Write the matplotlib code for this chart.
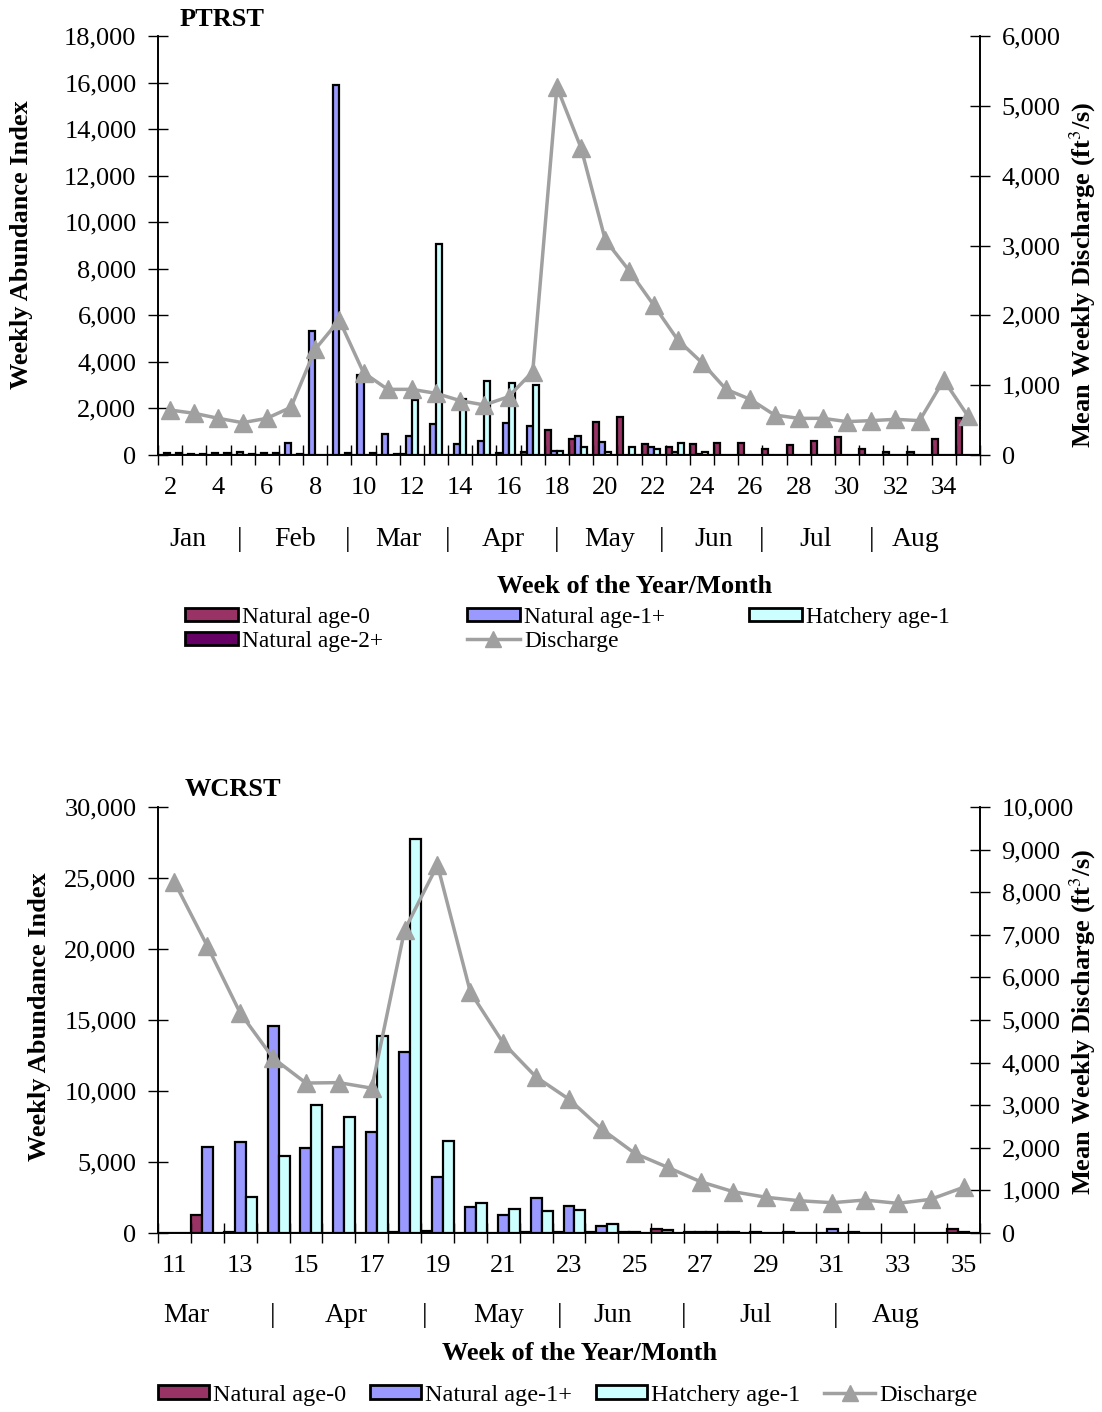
import matplotlib
matplotlib.use('Agg')
import matplotlib.pyplot as plt
from matplotlib.ticker import StrMethodFormatter, FixedLocator
from matplotlib.patches import Patch
from matplotlib.lines import Line2D
import numpy as np

plt.rcParams['font.family'] = ['Liberation Serif', 'DejaVu Serif']
plt.rcParams['mathtext.fontset'] = 'stix'

# ---- PTRST (weeks 2-35) ----
weeks_pt = list(range(2, 36))
pt_age0 = [0, 0, 0, 0, 0, 0, 0, 0, 0, 0, 30, 0, 0, 0, 100, 150, 1070, 670, 1430, 1620,
           470, 360, 470, 500, 500, 240, 430, 620, 760, 240, 140, 140, 670, 1580]
pt_age1 = [80, 60, 90, 110, 100, 500, 5340, 15900, 3450, 900, 820, 1330, 470, 620, 1390, 1250,
           190, 820, 570, 20, 360, 140, 40, 20, 20, 20, 20, 20, 20, 20, 20, 20, 0, 0]
pt_hatch = [0, 0, 0, 0, 0, 0, 0, 0, 0, 0, 2360, 9050, 2390, 3170, 3100, 3000,
            190, 360, 140, 360, 240, 500, 140, 20, 20, 20, 20, 20, 20, 20, 20, 20, 20, 20]
pt_age2 = [70, 60, 80, 60, 70, 60, 0, 100, 80, 60, 0, 0, 0, 0, 0, 0,
           0, 0, 0, 0, 0, 0, 20, 20, 20, 20, 20, 20, 20, 20, 20, 20, 20, 20]
pt_discharge = [644, 597, 525, 463, 525, 683, 1513, 1933, 1179, 940, 940, 883, 778, 716, 835, 1193,
                5270, 4396, 3079, 2635, 2148, 1647, 1322, 940, 797, 573, 525, 525, 478, 492, 511, 492,
                1074, 558]
pt_ticklabels = list(range(2, 35, 2))
pt_months = ['Jan', '|', 'Feb', '|', 'Mar', '|', 'Apr', '|', 'May', '|', 'Jun', '|', 'Jul', '|', 'Aug']
pt_month_px = [188, 240, 295, 348, 398, 448, 503, 557, 610, 662, 714, 762, 816, 872, 916]

# ---- WCRST (weeks 11-35) ----
weeks_wc = list(range(11, 36))
wc_age0 = [0, 1270, 100, 0, 0, 0, 0, 60, 120, 0, 30, 60, 60, 60, 100, 300, 80, 50, 40, 40,
           20, 40, 30, 30, 250]
wc_age1 = [0, 6050, 6430, 14600, 6010, 6050, 7140, 12750, 3970, 1810, 1290, 2440, 1920, 490,
           60, 210, 60, 40, 30, 30, 300, 30, 20, 20, 40]
wc_hatch = [0, 0, 2560, 5420, 9010, 8180, 13870, 27750, 6510, 2090, 1670, 1550, 1620, 630,
            30, 20, 50, 20, 20, 20, 20, 20, 20, 20, 20]
wc_discharge = [8239, 6736, 5164, 4107, 3520, 3530, 3400, 7112, 8638, 5656, 4459, 3661, 3140, 2436,
                1870, 1542, 1204, 969, 838, 758, 711, 774, 696, 791, 1073]
wc_ticklabels = list(range(11, 36, 2))
wc_months = ['Mar', '|', 'Apr', '|', 'May', '|', 'Jun', '|', 'Jul', '|', 'Aug']
wc_month_px = [186, 273, 346, 425, 499, 560, 613, 684, 756, 836, 896]

C_AGE0 = '#993366'
C_AGE1 = '#9999FF'
C_HATCH = '#CCFFFF'
C_AGE2 = '#660066'
C_DIS = '#A0A0A0'

W, H = 1102, 1412
fig = plt.figure(figsize=(W / 100, H / 100), dpi=100)


def px_axes(left, top, right, bottom):
    return fig.add_axes([left / W, 1 - bottom / H, (right - left) / W, (bottom - top) / H])


def style_axes(ax, ax2, weeks, ticklabels, ymax, ystep, y2max, y2step):
    x = np.array(weeks)
    ax.set_xlim(x[0] - 0.5, x[-1] + 0.5)
    ax.set_ylim(0, ymax)
    ax2.set_ylim(0, y2max)
    ax.set_yticks(np.arange(0, ymax + 1, ystep))
    ax2.set_yticks(np.arange(0, y2max + 1, y2step))
    ax.yaxis.set_major_formatter(StrMethodFormatter('{x:,.0f}'))
    ax2.yaxis.set_major_formatter(StrMethodFormatter('{x:,.0f}'))
    ax.xaxis.set_major_locator(FixedLocator(np.arange(x[0] - 0.5, x[-1] + 1)))
    ax.xaxis.set_minor_locator(FixedLocator(ticklabels))
    ax.xaxis.set_major_formatter(plt.NullFormatter())
    ax.set_xticklabels([str(t) for t in ticklabels], minor=True)
    ax.tick_params(axis='x', which='major', direction='inout', length=14, width=1)
    ax.tick_params(axis='x', which='minor', length=0, pad=16, labelsize=19)
    ax.tick_params(axis='y', direction='inout', length=15, width=1, pad=8, labelsize=19)
    ax2.tick_params(axis='y', direction='inout', length=15, width=1, pad=8, labelsize=19)
    for a in (ax, ax2):
        a.spines['top'].set_visible(False)
        for s in ('left', 'right', 'bottom'):
            a.spines[s].set_linewidth(1.2)


# ---------- top chart ----------
ax = px_axes(158, 36, 980, 455)
ax2 = ax.twinx()
x = np.array(weeks_pt)
bw = 0.25
for off, vals, col in [(-0.375, pt_age0, C_AGE0), (-0.125, pt_age1, C_AGE1),
                       (0.125, pt_hatch, C_HATCH), (0.375, pt_age2, C_AGE2)]:
    ax.bar(x + off, vals, width=bw, color=col, edgecolor='black', linewidth=1.6)
ax2.plot(x, pt_discharge, color=C_DIS, lw=2.5, marker='^', markersize=13)
style_axes(ax, ax2, weeks_pt, pt_ticklabels, 18000, 2000, 6000, 1000)
fig.text(180 / W, 1 - 19 / H, 'PTRST', fontsize=19, fontweight='bold', va='center', ha='left')
fig.text(22 / W, 1 - 245 / H, 'Weekly Abundance Index', fontsize=19, fontweight='bold',
         rotation=90, va='center', ha='center')
fig.text(1083 / W, 1 - 275 / H, 'Mean Weekly Discharge (ft$^3$/s)', fontsize=19, fontweight='bold',
         rotation=90, va='center', ha='center')
for lab, px in zip(pt_months, pt_month_px):
    fig.text(px / W, 1 - 540 / H, lab, fontsize=20, va='center', ha='center')
fig.text(635 / W, 1 - 586 / H, 'Week of the Year/Month', fontsize=19, fontweight='bold',
         va='center', ha='center')

h_age0 = Patch(facecolor=C_AGE0, edgecolor='black', linewidth=2, label='Natural age-0')
h_age1 = Patch(facecolor=C_AGE1, edgecolor='black', linewidth=2, label='Natural age-1+')
h_hatch = Patch(facecolor=C_HATCH, edgecolor='black', linewidth=2, label='Hatchery age-1')
h_age2 = Patch(facecolor=C_AGE2, edgecolor='black', linewidth=2, label='Natural age-2+')
h_dis = Line2D([], [], color=C_DIS, lw=2.5, marker='^', markersize=11, label='Discharge')

fig.legend(handles=[h_age0, h_age2, h_age1, h_dis, h_hatch], ncol=3, frameon=False,
           fontsize=16.8, loc='upper left', bbox_to_anchor=(185 / W, 1 - 607 / H),
           handlelength=2.25, handleheight=0.5, handletextpad=0.2, columnspacing=3.6,
           labelspacing=0.12, borderpad=0, borderaxespad=0)

# ---------- bottom chart ----------
bx = px_axes(158, 807, 980, 1233)
bx2 = bx.twinx()
x = np.array(weeks_wc)
bw = 1 / 3
for off, vals, col in [(-1 / 3, wc_age0, C_AGE0), (0, wc_age1, C_AGE1), (1 / 3, wc_hatch, C_HATCH)]:
    bx.bar(x + off, vals, width=bw, color=col, edgecolor='black', linewidth=1.6)
bx2.plot(x, wc_discharge, color=C_DIS, lw=2.5, marker='^', markersize=13)
style_axes(bx, bx2, weeks_wc, wc_ticklabels, 30000, 5000, 10000, 1000)
fig.text(185 / W, 1 - 789 / H, 'WCRST', fontsize=19, fontweight='bold', va='center', ha='left')
fig.text(40 / W, 1 - 1017 / H, 'Weekly Abundance Index', fontsize=19, fontweight='bold',
         rotation=90, va='center', ha='center')
fig.text(1083 / W, 1 - 1022 / H, 'Mean Weekly Discharge (ft$^3$/s)', fontsize=19, fontweight='bold',
         rotation=90, va='center', ha='center')
for lab, px in zip(wc_months, wc_month_px):
    fig.text(px / W, 1 - 1315 / H, lab, fontsize=20, va='center', ha='center')
fig.text(580 / W, 1 - 1353 / H, 'Week of the Year/Month', fontsize=19, fontweight='bold',
         va='center', ha='center')

fig.legend(handles=[h_age0, h_age1, h_hatch, h_dis], ncol=4, frameon=False,
           fontsize=17.5, loc='upper left', bbox_to_anchor=(158 / W, 1 - 1385 / H),
           handlelength=2.1, handleheight=0.5, handletextpad=0.15, columnspacing=1.0,
           borderpad=0, borderaxespad=0)

fig.savefig('out.png', dpi=100)
